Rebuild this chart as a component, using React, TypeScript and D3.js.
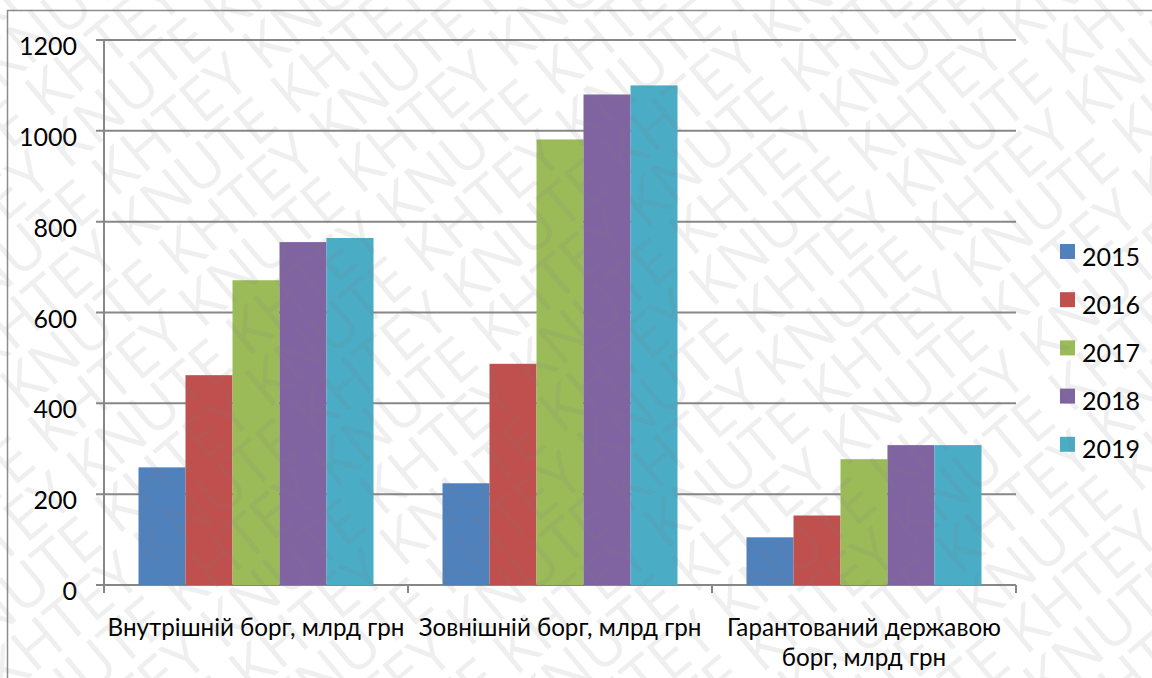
import React from "react";
import * as d3 from "d3";

// Public debt of Ukraine by type, bn UAH
const categories = [
  "Внутрішній борг, млрд грн",
  "Зовнішній борг, млрд грн",
  "Гарантований державою борг, млрд грн",
];
const categoryLines = [
  ["Внутрішній борг, млрд грн"],
  ["Зовнішній борг, млрд грн"],
  ["Гарантований державою", "борг, млрд грн"],
];
const years = ["2015", "2016", "2017", "2018", "2019"];
const values2015 = [259, 224, 105];
const values2016 = [462, 487, 153];
const values2017 = [671, 981, 277];
const values2018 = [755, 1080, 308];
const values2019 = [764, 1100, 308];
const yTicks = [0, 200, 400, 600, 800, 1000, 1200];
const colors = ["#4F81BD", "#C0504D", "#9BBB59", "#8064A2", "#4BACC6"];
const watermarkWords = "KHTEY KNUTE ";

const series = [values2015, values2016, values2017, values2018, values2019];

const W = 1152;
const H = 678;
const plot = { left: 104, right: 1016, top: 40, bottom: 585 };
const FONT = "Lato, 'Open Sans', sans-serif";
const WM_FONT = "'Open Sans', 'Noto Sans', sans-serif";
const GRID = "#878787";

export default function App() {
  const x0 = d3
    .scaleBand<string>()
    .domain(categories)
    .range([plot.left, plot.right])
    .paddingInner(0)
    .paddingOuter(0);
  const x1 = d3
    .scaleBand<string>()
    .domain(years)
    .range([0, x0.bandwidth()])
    .paddingInner(0)
    .paddingOuter(0.734);
  const y = d3.scaleLinear().domain([0, 1200]).range([plot.bottom, plot.top]);

  const catTicks = [...categories.map((c) => x0(c) as number), plot.right];

  // diagonal watermark rows
  const angle = -40;
  const rowGap = 52;
  const rows = d3.range(-15, 24);
  const rowText = watermarkWords.repeat(8);

  return (
    <div style={{ position: "fixed", left: 0, top: 0 }}>
      <svg width={W} height={H} style={{ display: "block", background: "#fff" }}>
        <defs>
          <clipPath id="page">
            <rect x={0} y={0} width={W} height={H} />
          </clipPath>
        </defs>
        <rect x={7.5} y={10.5} width={W + 20} height={H + 20} fill="#fff" stroke="#8c8c8c" strokeWidth={1.5} />

        {/* gridlines and y ticks */}
        {yTicks.map((t) => (
          <g key={t}>
            <line x1={plot.left - 8} x2={plot.right} y1={y(t)} y2={y(t)} stroke={GRID} strokeWidth={2} />
            <text
              x={77}
              y={y(t) + 15}
              textAnchor="end"
              fontFamily={FONT}
              fontSize={25}
              fill="#000"
            >
              {t}
            </text>
          </g>
        ))}

        {/* bars */}
        {categories.map((c, ci) => (
          <g key={c} transform={`translate(${x0(c)},0)`}>
            {years.map((yr, si) => (
              <rect
                key={yr}
                x={x1(yr)}
                y={y(series[si][ci])}
                width={x1.bandwidth()}
                height={y(0) - y(series[si][ci])}
                fill={colors[si]}
              />
            ))}
          </g>
        ))}

        {/* axes */}
        <line x1={plot.left} x2={plot.left} y1={plot.top} y2={plot.bottom + 8} stroke={GRID} strokeWidth={2} />
        {catTicks.map((tx, i) => (
          <line key={i} x1={tx} x2={tx} y1={plot.bottom} y2={plot.bottom + 8} stroke={GRID} strokeWidth={2} />
        ))}

        {/* category labels */}
        {categories.map((c, ci) => (
          <text
            key={c}
            x={(x0(c) as number) + x0.bandwidth() / 2}
            y={636}
            textAnchor="middle"
            fontFamily={FONT}
            fontSize={24.2}
            fill="#000"
          >
            {categoryLines[ci].map((ln, li) => (
              <tspan key={li} x={(x0(c) as number) + x0.bandwidth() / 2} dy={li === 0 ? 0 : 30}>
                {ln}
              </tspan>
            ))}
          </text>
        ))}

        {/* legend */}
        {years.map((yr, i) => (
          <g key={yr} transform={`translate(1060,${244 + i * 48.2})`}>
            <rect width={15} height={15} fill={colors[i]} />
            <text x={22} y={21.5} fontFamily={FONT} fontSize={25} fill="#000">
              {yr}
            </text>
          </g>
        ))}

        {/* watermark */}
        <g clipPath="url(#page)" style={{ pointerEvents: "none" }}>
          <g
            transform={`rotate(${angle} ${W / 2} ${H / 2})`}
            fontFamily={WM_FONT}
            fontSize={60}
            fill="#7a7a7a"
            fillOpacity={0.12}
          >
            {rows.map((r) => (
              <text key={r} x={-900 + (((r % 2) + 2) % 2) * 190} y={H / 2 + r * rowGap - 300} xmlSpace="preserve">
                {rowText}
              </text>
            ))}
          </g>
        </g>
      </svg>
    </div>
  );
}
